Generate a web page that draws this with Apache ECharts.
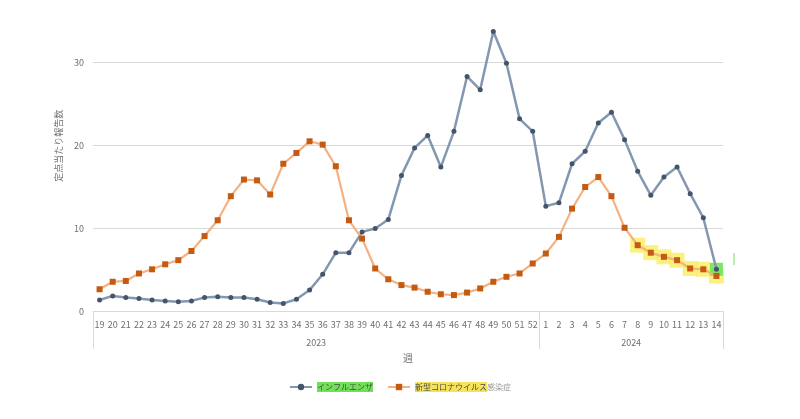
<!DOCTYPE html>
<html>
<head>
<meta charset="utf-8">
<script src="https://cdn.jsdelivr.net/npm/echarts@6/dist/echarts.min.js"></script>
<style>
  html, body { margin: 0; padding: 0; background: #fff; }
  #chart { width: 800px; height: 419px; }
</style>
</head>
<body>
<div id="chart"></div>
<script>
// 週ラベル（2023年19週〜2024年14週）
const weeks = ['19','20','21','22','23','24','25','26','27','28','29','30','31','32','33','34','35','36','37','38','39','40','41','42','43','44','45','46','47','48','49','50','51','52',
  '1','2','3','4','5','6','7','8','9','10','11','12','13','14']

// 年ラベルと各年の週数
const years = ['2023', '2024']
const yearSpans = [34, 14]

// 縦軸の目盛り
const yTicks = [0, 10, 20, 30]

// 定点当たり報告数
const influenza = [1.4, 1.9, 1.7, 1.6, 1.4, 1.3, 1.2, 1.3, 1.7, 1.8, 1.7, 1.7, 1.5, 1.1, 1.0, 1.5, 2.6, 4.5, 7.1, 7.1, 9.6, 10.0, 11.1, 16.4, 19.7, 21.2, 17.4, 21.7, 28.3, 26.7, 33.7, 29.9, 23.2, 21.7,
  12.7, 13.1, 17.8, 19.3, 22.7, 24.0, 20.7, 16.9, 14.0, 16.2, 17.4, 14.2, 11.3, 5.1]
const covid = [2.7, 3.6, 3.7, 4.6, 5.1, 5.7, 6.2, 7.3, 9.1, 11.0, 13.9, 15.9, 15.8, 14.1, 17.8, 19.1, 20.5, 20.1, 17.5, 11.0, 8.8, 5.2, 3.9, 3.2, 2.9, 2.4, 2.1, 2.0, 2.3, 2.8, 3.6, 4.2, 4.6, 5.8,
  7.0, 9.0, 12.4, 15.0, 16.2, 13.9, 10.1, 8.0, 7.1, 6.6, 6.2, 5.2, 5.1, 4.3]

// マーカー（蛍光ペン）を付けた週
const covidMarkFrom = 41   // 2024年8週以降
const fluMarkFrom = 47     // 2024年14週

const seriesNames = ['インフルエンザ', '新型コロナウイルス感染症']

const textColor = '#6f6f6f'
const lineGrey = '#d9d9d9'
const font = 'Noto Sans CJK JP'

const chart = echarts.init(document.getElementById('chart'))

// 年ラベルの中心位置と区切り位置
const yearCenters = []
const yearBounds = [0]
let acc = 0
yearSpans.forEach((n) => {
  yearCenters.push(acc + n / 2)
  acc += n
  yearBounds.push(acc)
})

const option = {
  animation: false,
  textStyle: { fontFamily: font },
  grid: { left: 93, right: 77, top: 0, bottom: 107.3 },
  legend: {
    data: seriesNames,
    bottom: 22,
    left: 'center',
    itemWidth: 22,
    itemHeight: 8,
    itemGap: 14,
    textStyle: {
      fontSize: 8,
      color: textColor,
      fontFamily: font,
      rich: {
        g: { backgroundColor: '#72df5a', color: '#4a4a4a', fontSize: 8, padding: [1, 0, 1, 0] },
        y: { backgroundColor: '#f7e35a', color: '#4a4a4a', fontSize: 8, padding: [1, 0, 1, 0] },
        n: { color: '#9a9a9a', fontSize: 8 }
      }
    },
    formatter: (name) => {
      if (name === seriesNames[0]) return '{g|' + name + '}'
      return '{y|新型コロナウイルス}{n|感染症}'
    }
  },
  xAxis: [
    {
      type: 'category',
      data: weeks,
      boundaryGap: true,
      axisLine: { lineStyle: { color: lineGrey } },
      axisTick: { show: false },
      axisLabel: { interval: 0, fontSize: 9, color: textColor, margin: 8 },
      name: '週',
      nameLocation: 'middle',
      nameGap: 42,
      nameTextStyle: { fontSize: 10, color: textColor }
    },
    {
      type: 'value',
      min: 0,
      max: acc,
      position: 'bottom',
      axisLine: { show: false },
      splitLine: { show: false },
      axisTick: {
        show: true,
        customValues: yearBounds,
        length: 37,
        lineStyle: { color: lineGrey }
      },
      axisLabel: {
        customValues: yearCenters,
        margin: 26,
        fontSize: 9,
        color: textColor,
        formatter: (v) => {
          const i = yearCenters.indexOf(v)
          return i >= 0 ? years[i] : ''
        }
      }
    }
  ],
  yAxis: {
    type: 'value',
    min: 0,
    max: 37.5,
    axisLine: { show: false },
    axisTick: { show: false, customValues: yTicks },
    splitLine: { lineStyle: { color: lineGrey } },
    axisLabel: { fontSize: 9, color: textColor, margin: 9, customValues: yTicks },
    name: '定点当たり報告数',
    nameLocation: 'middle',
    nameGap: 26,
    nameTextStyle: { fontSize: 9, color: textColor, padding: [0, 0, 0, 20] }
  },
  series: [
    {
      name: 'mark-covid',
      type: 'scatter',
      xAxisIndex: 0,
      symbol: 'rect',
      symbolSize: 15,
      z: 1,
      silent: true,
      itemStyle: { color: '#f9ef6a', opacity: 0.85 },
      data: covid.map((v, i) => (i >= covidMarkFrom ? v : null))
    },
    {
      name: 'mark-flu',
      type: 'scatter',
      xAxisIndex: 0,
      symbol: 'rect',
      symbolSize: 13,
      z: 1,
      silent: true,
      itemStyle: { color: '#6fe35b', opacity: 0.9 },
      data: influenza.map((v, i) => (i >= fluMarkFrom ? v : null))
    },
    {
      name: seriesNames[0],
      type: 'line',
      xAxisIndex: 0,
      data: influenza,
      z: 3,
      symbol: 'circle',
      symbolSize: 5,
      showAllSymbol: true,
      lineStyle: { color: '#8497b0', width: 2.5 },
      itemStyle: { color: '#44546a', borderWidth: 0 }
    },
    {
      name: seriesNames[1],
      type: 'line',
      xAxisIndex: 0,
      data: covid,
      z: 3,
      symbol: 'rect',
      symbolSize: 6,
      showAllSymbol: true,
      lineStyle: { color: '#f4b183', width: 2.2 },
      itemStyle: { color: '#c55a11', borderWidth: 0 }
    }
  ],
  graphic: [
    // 右端の小さなマーカー跡
    { type: 'rect', left: 733, top: 253, shape: { width: 2, height: 12 }, style: { fill: '#b8eeb0' } }
  ]
}

chart.setOption(option)
</script>
</body>
</html>
